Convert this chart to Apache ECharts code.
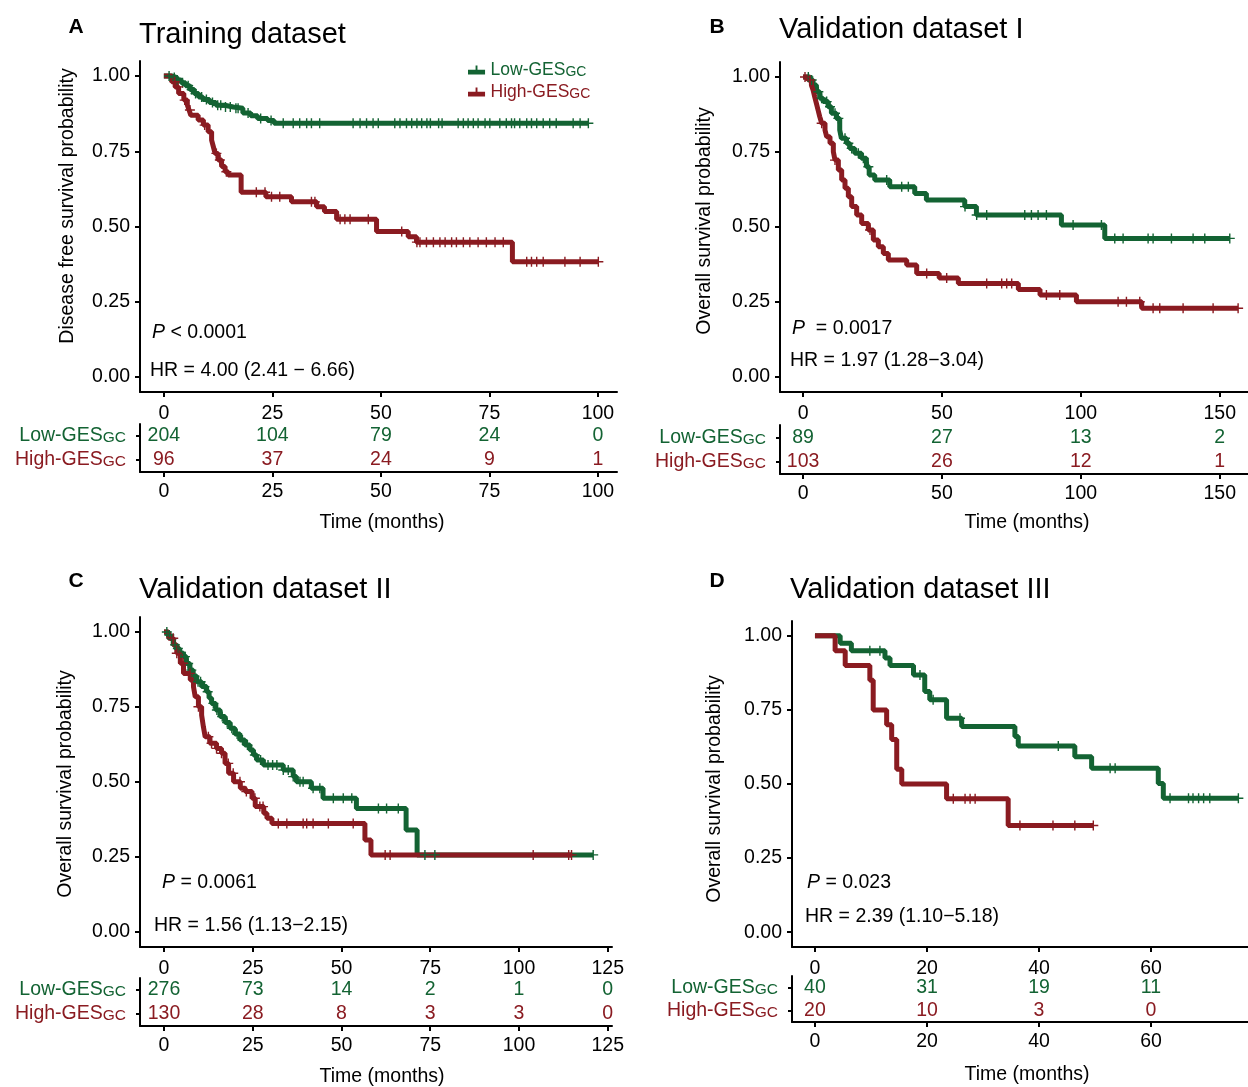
<!DOCTYPE html>
<html><head><meta charset="utf-8">
<script src="https://cdn.jsdelivr.net/npm/echarts@6/dist/echarts.min.js"></script>
<style>html,body{margin:0;padding:0;background:#fff}#c{width:1248px;height:1087px}</style>
</head><body><div id="c"></div>
<script>
const groups = ['Low-GESGC', 'High-GESGC'];
const yTicks = [0, 0.25, 0.5, 0.75, 1];

// Panel A – Training dataset
const aLowSteps = [[0,1],[2,0.995],[3,0.987],[4,0.978],[5,0.968],[6,0.955],[7,0.942],[8,0.93],[9,0.922],[10.5,0.912],[12,0.903],[14,0.897],[16,0.893],[18.2,0.877],[20,0.868],[21.6,0.859],[23.9,0.852],[25.4,0.843],[97.8,0.843]];
const aHighSteps = [[0,1],[1.8,0.981],[2.6,0.964],[3.4,0.942],[4.6,0.92],[5.4,0.904],[5.8,0.887],[6.2,0.87],[7.9,0.854],[9.1,0.837],[10.2,0.815],[11,0.787],[11.4,0.765],[11.8,0.743],[12.5,0.721],[13.3,0.699],[14.1,0.682],[14.8,0.671],[17.8,0.614],[23.5,0.599],[29.4,0.582],[35.2,0.566],[37,0.55],[39.8,0.524],[49,0.483],[56.3,0.466],[58.2,0.448],[80.3,0.383],[100.1,0.383]];
const aLowCens = [1.2,2.4,3.1,4.3,5.6,6.4,7.3,8.7,9.8,11.2,12.4,13.1,14.2,15.3,16.6,17.1,19.4,22.3,24.7,27.5,29.8,31.3,32.9,34.0,35.9,43.6,45.2,46.7,48.2,49.4,53.2,54.4,55.9,57.1,58.3,59.4,60.6,61.4,63.3,64.1,67.8,69.0,70.1,71.3,72.4,74.0,75.1,77.4,78.9,80.1,80.8,82.0,83.6,84.7,85.9,87.4,88.9,90.4,94.3,95.9,97.8];
const aHighCens = [2.5,3.3,4.8,6.0,9.4,12.1,12.9,14.4,21.3,23.3,24.8,26.7,34.0,34.8,40.6,41.7,42.9,47.1,54.8,58.3,59.0,60.5,62.1,63.6,64.8,66.3,67.4,69.0,70.5,72.4,74.3,76.3,78.2,83.6,84.7,85.9,87.4,92.4,95.9,100.1];
const aTicks = [0, 25, 50, 75, 100];
const aRiskLow = [204, 104, 79, 24, 0];
const aRiskHigh = [96, 37, 24, 9, 1];

// Panel B – Validation dataset I
const bLowSteps = [[0,1],[2.5,0.99],[3.6,0.973],[4.8,0.951],[6.0,0.929],[7.2,0.918],[9.0,0.901],[10.2,0.879],[12.0,0.862],[13.2,0.823],[13.8,0.796],[15.6,0.779],[16.8,0.762],[18.6,0.746],[21.0,0.729],[22.8,0.701],[23.8,0.673],[25.8,0.657],[31.2,0.634],[40.2,0.612],[44.4,0.59],[58.2,0.568],[62.4,0.54],[93,0.507],[108.6,0.462],[153.6,0.462]];
const bHighSteps = [[0,1],[1.8,0.99],[3.0,0.973],[3.6,0.957],[4.2,0.934],[4.8,0.912],[5.4,0.89],[6.0,0.868],[6.7,0.846],[7.9,0.823],[8.5,0.801],[9.7,0.779],[10.9,0.751],[11.5,0.723],[12.7,0.69],[13.9,0.657],[15.1,0.629],[16.3,0.601],[17.5,0.568],[19.3,0.54],[21.1,0.512],[23.5,0.49],[25.3,0.457],[27.1,0.434],[28.9,0.412],[30.7,0.39],[37.3,0.373],[40.9,0.345],[49,0.33],[55.9,0.312],[77.5,0.292],[85.3,0.273],[98.4,0.251],[121.9,0.229],[156.6,0.229]];
const bLowCens = [1.9,3.1,5.5,6.7,8.5,9.7,11.5,12.7,15.1,16.3,17.5,19.9,21.7,23.5,30.1,35.5,37.9,58.3,62.5,66.1,79.8,82.2,84.6,87.6,97.2,107.4,112.2,115.2,124.2,126.0,132.6,140.4,144.6,153.6];
const bHighCens = [0.7,2.5,6.7,11.5,24.1,44.5,51.7,66.1,71.5,73.3,75.1,87.6,92.4,113.4,116.4,121.2,126.0,128.4,136.8,147.6,156.6];
const bTicks = [0, 50, 100, 150];
const bRiskLow = [89, 27, 13, 2];
const bRiskHigh = [103, 26, 12, 1];

// Panel C – Validation dataset II
const cLowSteps = [[0,1],[1,0.99],[1.8,0.978],[2.6,0.957],[3.5,0.945],[4.4,0.93],[5.4,0.918],[6.3,0.895],[7.3,0.873],[8.2,0.853],[9.2,0.834],[10.6,0.818],[12.0,0.801],[12.7,0.78],[13.4,0.762],[14.6,0.74],[15.8,0.718],[17.2,0.698],[18.6,0.679],[20,0.66],[21.4,0.64],[22.8,0.623],[24.2,0.607],[25.2,0.59],[26.1,0.573],[28.0,0.557],[33.6,0.54],[36.4,0.518],[37.3,0.501],[41.5,0.479],[44.8,0.446],[54.2,0.412],[68.2,0.34],[71.3,0.257],[120.9,0.257]];
const cHighSteps = [[0,1],[1.3,0.979],[2.7,0.957],[3.6,0.929],[4.6,0.896],[5.5,0.862],[7.4,0.84],[8.3,0.818],[8.8,0.784],[9.7,0.751],[10.6,0.723],[11.1,0.684],[11.6,0.651],[12.9,0.629],[14.8,0.612],[16.2,0.596],[17.2,0.562],[18.2,0.529],[19.6,0.501],[21.5,0.479],[22.9,0.468],[24.8,0.446],[25.7,0.418],[28.1,0.396],[29.0,0.379],[30.4,0.362],[56.6,0.307],[58.3,0.257],[114.8,0.257]];
const cLowCens = [0.8,1.5,2.2,3.1,3.9,4.8,5.9,6.8,7.7,8.6,9.6,10.3,11.4,12.3,13.9,14.9,16.4,17.8,19.1,20.6,22.1,23.5,25.6,27.2,29.3,30.6,31.8,33.6,35.0,36.4,38.3,39.2,42.0,43.9,47.7,50.5,52.9,60.4,62.7,66.0,73.5,76.3,120.9];
const cHighCens = [2.6,3.6,5.4,7.3,9.7,12.5,13.4,14.8,16.2,18.1,19.5,21.4,23.2,25.6,27.0,27.9,32.2,34.6,39.2,40.2,42.0,46.3,53.3,62.3,63.7,104.0,114.0,114.8];
const cTicks = [0, 25, 50, 75, 100, 125];
const cRiskLow = [276, 73, 14, 2, 1, 0];
const cRiskHigh = [130, 28, 8, 3, 3, 0];

// Panel D – Validation dataset III
const dLowSteps = [[0,1],[4.5,0.975],[6.5,0.95],[12.5,0.925],[13.4,0.9],[17.6,0.868],[19.6,0.812],[20.5,0.784],[23.5,0.722],[26.2,0.694],[35.7,0.66],[36.3,0.628],[46.4,0.592],[49.4,0.553],[61.3,0.502],[62.2,0.452],[75.6,0.452]];
const dHighSteps = [[0,1],[3.6,0.95],[5.4,0.9],[9.8,0.85],[10.4,0.75],[12.8,0.7],[13.7,0.65],[14.6,0.55],[15.5,0.5],[23.5,0.45],[34.5,0.36],[49.7,0.36]];
const dLowCens = [9.8,11.6,18.75,21.1,25.9,43.45,52.7,53.6,63.4,66.7,67.5,68.5,69.4,70.5,75.6];
const dHighCens = [24.7,26.8,27.7,28.6,36.6,42.5,46.4,49.7];
const dTicks = [0, 20, 40, 60];
const dRiskLow = [40, 31, 19, 11];
const dRiskHigh = [20, 10, 3, 0];

const GREEN = '#136333', RED = '#8A1B21';
const FF = 'Liberation Sans, Arial, Helvetica, sans-serif';
const FS = 19.5;
const PLUS = 'path://M-0.7,-5L0.7,-5L0.7,-0.7L5,-0.7L5,0.7L0.7,0.7L0.7,5L-0.7,5L-0.7,0.7L-5,0.7L-5,-0.7L-0.7,-0.7Z';
const LEGICON = 'path://M0,4.5L18,4.5L18,9.5L0,9.5Z M8,0L10,0L10,4.5L8,4.5Z';

const panels = [
  {low:aLowSteps, high:aHighSteps, lowCens:aLowCens, highCens:aHighCens, ticks:aTicks, rl:aRiskLow, rh:aRiskHigh,
   main:{left:140, top:61, width:477, height:331}, xr:[-5.5,104.4], table:{left:140, top:424, width:477, height:48}},
  {low:bLowSteps, high:bHighSteps, lowCens:bLowCens, highCens:bHighCens, ticks:bTicks, rl:bRiskLow, rh:bRiskHigh,
   main:{left:780, top:62, width:482, height:330}, xr:[-8.3,165.2], table:{left:780, top:425, width:482, height:49}},
  {low:cLowSteps, high:cHighSteps, lowCens:cLowCens, highCens:cHighCens, ticks:cTicks, rl:cRiskLow, rh:cRiskHigh,
   main:{left:140, top:617, width:472, height:330}, xr:[-6.76,126.2], table:{left:140, top:978, width:472, height:48}},
  {low:dLowSteps, high:dHighSteps, lowCens:dLowCens, highCens:dHighCens, ticks:dTicks, rl:dRiskLow, rh:dRiskHigh,
   main:{left:792, top:621, width:471, height:326}, xr:[-4.1,80], table:{left:792, top:976, width:471, height:46}}
];

function survAt(steps, t) {
  let s = steps[0][1];
  for (const [ti, si] of steps) { if (ti <= t) s = si; }
  return s;
}

const grid = [], xAxis = [], yAxis = [], series = [];
const axisLineStyle = {color:'#000', width:2};
panels.forEach((p, k) => {
  const gi = k * 2;
  grid.push(Object.assign({containLabel:false, outerBoundsMode:'none'}, p.main));
  grid.push(Object.assign({containLabel:false, outerBoundsMode:'none'}, p.table));
  xAxis.push({type:'value', gridIndex:gi, min:p.xr[0], max:p.xr[1],
    axisLine:{show:true, onZero:false, lineStyle:axisLineStyle},
    axisTick:{show:true, length:5, lineStyle:axisLineStyle, customValues:p.ticks},
    axisLabel:{show:true, margin:12, color:'#000', fontSize:FS, fontFamily:FF, customValues:p.ticks},
    splitLine:{show:false}});
  yAxis.push({type:'value', gridIndex:gi, min:-0.05, max:1.05,
    axisLine:{show:true, onZero:false, lineStyle:axisLineStyle},
    axisTick:{show:true, length:5, lineStyle:axisLineStyle, customValues:yTicks},
    axisLabel:{show:true, margin:10, color:'#000', fontSize:FS, fontFamily:FF, customValues:yTicks,
      formatter:v => v.toFixed(2)},
    splitLine:{show:false}});
  xAxis.push({type:'value', gridIndex:gi+1, min:p.xr[0], max:p.xr[1],
    axisLine:{show:true, onZero:false, lineStyle:axisLineStyle},
    axisTick:{show:true, length:5, lineStyle:axisLineStyle, customValues:p.ticks},
    axisLabel:{show:true, margin:10, color:'#000', fontSize:FS, fontFamily:FF, customValues:p.ticks},
    splitLine:{show:false}});
  yAxis.push({type:'category', gridIndex:gi+1, data:groups, inverse:true,
    axisLine:{show:true, onZero:false, lineStyle:axisLineStyle},
    axisTick:{show:true, length:4, alignWithLabel:true, lineStyle:axisLineStyle},
    axisLabel:{show:true, margin:14, fontFamily:FF,
      formatter:v => v === 'Low-GESGC' ? '{lg|Low-GES}{ls|GC}' : '{hg|High-GES}{hs|GC}',
      rich:{
        lg:{color:GREEN, fontSize:FS, fontFamily:FF, verticalAlign:'bottom'},
        ls:{color:GREEN, fontSize:15.5, fontFamily:FF, verticalAlign:'bottom'},
        hg:{color:RED, fontSize:FS, fontFamily:FF, verticalAlign:'bottom'},
        hs:{color:RED, fontSize:15.5, fontFamily:FF, verticalAlign:'bottom'}
      }},
    splitLine:{show:false}});

  const defs = [[groups[0], p.low, p.lowCens, GREEN, p.rl, 0], [groups[1], p.high, p.highCens, RED, p.rh, 1]];
  defs.forEach(([name, steps]) => {
    const col = name === groups[0] ? GREEN : RED;
    series.push({type:'line', name, xAxisIndex:gi, yAxisIndex:gi, data:steps, step:'end',
      symbol:'none', lineStyle:{color:col, width:5}, itemStyle:{color:col}, silent:true, z:3});
  });
  defs.forEach(([name, steps, cens, col, risk, row]) => {
    series.push({type:'scatter', name, xAxisIndex:gi, yAxisIndex:gi,
      data:cens.map(t => [t, survAt(steps, t)]),
      symbol:PLUS, symbolSize:10, itemStyle:{color:col, opacity:1}, silent:true, z:4});
    series.push({type:'scatter', name:name + ' at risk', xAxisIndex:gi+1, yAxisIndex:gi+1,
      data:p.ticks.map((t, i) => [t, row, risk[i]]),
      symbolSize:0.01, itemStyle:{color:col, opacity:1}, silent:true,
      label:{show:true, position:'inside', formatter:q => String(q.value[2]), color:col, opacity:1,
        fontSize:FS, fontFamily:FF}});
  });
});

function txt(x, y, text, opts) {
  return {type:'text', x, y, silent:true,
    style:Object.assign({text, fill:'#000', fontSize:FS, fontFamily:FF, verticalAlign:'middle', align:'left'}, opts || {})};
}
function rtxt(x, y, text) {
  return {type:'text', x, y, rotation:Math.PI/2, silent:true,
    style:{text, fill:'#000', fontSize:FS, fontFamily:FF, verticalAlign:'middle', align:'center'}};
}
const italicRich = {i:{fontStyle:'italic', fontSize:FS, fontFamily:FF, fill:'#000'}};

const graphic = [
  txt(139, 35, 'Training dataset', {fontSize:29}),
  txt(779, 30, 'Validation dataset I', {fontSize:29}),
  txt(139, 590, 'Validation dataset II', {fontSize:29}),
  txt(790, 590, 'Validation dataset III', {fontSize:29}),
  txt(76, 27, 'A', {fontSize:21, fontWeight:'bold', align:'center'}),
  txt(717, 27, 'B', {fontSize:21, fontWeight:'bold', align:'center'}),
  txt(76, 581, 'C', {fontSize:21, fontWeight:'bold', align:'center'}),
  txt(717, 581, 'D', {fontSize:21, fontWeight:'bold', align:'center'}),
  rtxt(68, 206, 'Disease free survival probability'),
  rtxt(705, 221, 'Overall survival probability'),
  rtxt(66, 784, 'Overall survival probability'),
  rtxt(715, 789, 'Overall survival probability'),
  txt(152, 333, '{i|P} < 0.0001', {rich:italicRich}),
  txt(792, 329, '{i|P}  = 0.0017', {rich:italicRich}),
  txt(162, 883, '{i|P} = 0.0061', {rich:italicRich}),
  txt(807, 883, '{i|P} = 0.023', {rich:italicRich}),
  txt(150, 371, 'HR = 4.00 (2.41 \u2212 6.66)'),
  txt(790, 361, 'HR = 1.97 (1.28\u22123.04)'),
  txt(154, 926, 'HR = 1.56 (1.13\u22122.15)'),
  txt(805, 917, 'HR = 2.39 (1.10\u22125.18)'),
  txt(382, 523, 'Time (months)', {align:'center'}),
  txt(1027, 523, 'Time (months)', {align:'center'}),
  txt(382, 1077, 'Time (months)', {align:'center'}),
  txt(1027, 1075, 'Time (months)', {align:'center'})
];

const option = {
  animation:false,
  backgroundColor:'#fff',
  textStyle:{fontFamily:FF},
  grid, xAxis, yAxis, series, graphic,
  legend:{
    data:[{name:groups[0], itemStyle:{color:GREEN}}, {name:groups[1], itemStyle:{color:RED}}],
    orient:'vertical', left:463, top:56, itemGap:4, itemWidth:18, itemHeight:9,
    icon:LEGICON, selectedMode:false,
    formatter:n => n === 'Low-GESGC' ? '{lg|Low-GES}{ls|GC}' : '{hg|High-GES}{hs|GC}',
    textStyle:{fontFamily:FF, rich:{
      lg:{color:GREEN, fontSize:17.5, fontFamily:FF, verticalAlign:'bottom'},
      ls:{color:GREEN, fontSize:14, fontFamily:FF, verticalAlign:'bottom'},
      hg:{color:RED, fontSize:17.5, fontFamily:FF, verticalAlign:'bottom'},
      hs:{color:RED, fontSize:14, fontFamily:FF, verticalAlign:'bottom'}
    }}
  }
};

const chart = echarts.init(document.getElementById('c'), null, {renderer:'canvas', width:1248, height:1087});
chart.setOption(option);
</script></body></html>
